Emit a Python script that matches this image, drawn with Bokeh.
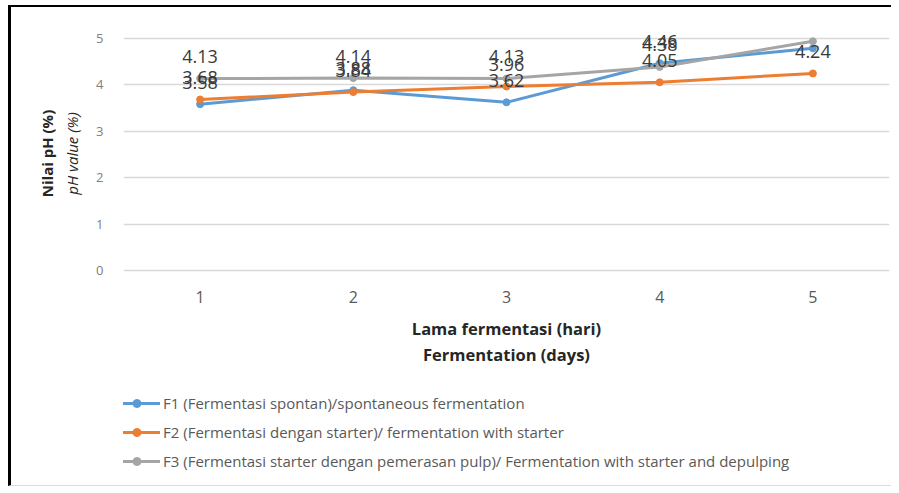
from bokeh.plotting import figure
from bokeh.layouts import column
from bokeh.models import Range1d, LinearAxis, FixedTicker, Legend, LegendItem, ColumnDataSource
from bokeh.core.properties import value
from bokeh.embed import file_html
from bokeh.resources import INLINE

# ---- data ----
days = [1, 2, 3, 4, 5]
day_labels = ["1", "2", "3", "4", "5"]
f1_values = [3.58, 3.88, 3.62, 4.46, 4.78]
f2_values = [3.68, 3.84, 3.96, 4.05, 4.24]
f3_values = [4.13, 4.14, 4.13, 4.38, 4.93]
y_ticks = [0, 1, 2, 3, 4, 5]
series_names = [
    "F1 (Fermentasi spontan)/spontaneous fermentation",
    "F2 (Fermentasi dengan starter)/ fermentation with starter",
    "F3 (Fermentasi starter dengan pemerasan pulp)/ Fermentation with starter and depulping",
]
colors = ["#5B9BD5", "#ED7D31", "#A5A5A5"]
x_title_1 = "Lama fermentasi (hari)"
x_title_2 = "Fermentation (days)"
y_title_1 = "Nilai pH (%)"
y_title_2 = "pH value (%)"

FONT = "Open Sans"


def plain_axis(ax):
    ax.axis_line_color = None
    ax.major_tick_line_color = None
    ax.minor_tick_line_color = None
    ax.major_tick_out = 0
    ax.major_tick_in = 0
    ax.minor_tick_out = 0
    ax.minor_tick_in = 0


# ---------------- chart ----------------
p = figure(width=880, height=364, output_backend="svg", toolbar_location=None,
           x_range=Range1d(0.5, 5.5), y_range=Range1d(-0.054, 5.097),
           min_border_left=112, min_border_right=2, min_border_top=26,
           min_border_bottom=98, x_axis_location=None, y_axis_location=None)
p.outline_line_color = None
p.background_fill_color = "white"
p.border_fill_color = "white"

yax = LinearAxis(ticker=FixedTicker(ticks=y_ticks), axis_label=y_title_2)
plain_axis(yax)
yax.major_label_standoff = 20
yax.major_label_text_font = FONT
yax.major_label_text_font_size = "13px"
yax.major_label_text_color = "#808080"
yax.axis_label_text_font = FONT
yax.axis_label_text_font_style = "italic"
yax.axis_label_text_font_size = "15px"
yax.axis_label_text_color = "#262626"
yax.axis_label_standoff = 11
p.add_layout(yax, "left")

yax2 = LinearAxis(ticker=FixedTicker(ticks=[]), axis_label=y_title_1)
plain_axis(yax2)
yax2.major_label_standoff = 0
yax2.axis_label_text_font = FONT
yax2.axis_label_text_font_style = "bold"
yax2.axis_label_text_font_size = "15px"
yax2.axis_label_text_color = "#262626"
yax2.axis_label_standoff = 3
p.add_layout(yax2, "left")

xax = LinearAxis(ticker=FixedTicker(ticks=days), axis_label=x_title_1)
plain_axis(xax)
xax.major_label_overrides = {d: s for d, s in zip(days, day_labels)}
xax.major_label_standoff = 17
xax.major_label_text_font = FONT
xax.major_label_text_font_size = "16px"
xax.major_label_text_color = "#595959"
xax.axis_label_text_font = FONT
xax.axis_label_text_font_style = "bold"
xax.axis_label_text_font_size = "16.5px"
xax.axis_label_text_color = "#262626"
xax.axis_label_standoff = 11
p.add_layout(xax, "below")

xax2 = LinearAxis(ticker=FixedTicker(ticks=[]), axis_label=x_title_2)
plain_axis(xax2)
xax2.major_label_standoff = 0
xax2.axis_label_text_font = FONT
xax2.axis_label_text_font_style = "bold"
xax2.axis_label_text_font_size = "16.5px"
xax2.axis_label_text_color = "#262626"
xax2.axis_label_standoff = 0
p.add_layout(xax2, "below")

p.xgrid.visible = False
p.ygrid.ticker = FixedTicker(ticks=y_ticks)
p.ygrid.grid_line_color = "#d9d9d9"
p.ygrid.grid_line_width = 1.5

all_vals = [f1_values, f2_values, f3_values]
srcs = []
for vals, col in zip(all_vals, colors):
    src = ColumnDataSource(dict(x=days, y=vals, lab=[f"{v:.2f}" for v in vals]))
    srcs.append(src)
    p.line("x", "y", source=src, line_color=col, line_width=3)
    p.scatter("x", "y", source=src, marker="circle", size=7, fill_color=col, line_color=col)

for src in srcs:
    p.text("x", "y", text="lab", source=src, text_font=value(FONT), text_font_size="18px",
           text_color="#3a3a3a", text_align="center", text_baseline="middle", y_offset=-22)

# ---------------- legend strip ----------------
q = figure(width=880, height=114, output_backend="svg", toolbar_location=None,
           x_range=Range1d(0.5, 5.5), y_range=Range1d(100, 101),
           min_border_left=0, min_border_right=0, min_border_top=0, min_border_bottom=0,
           x_axis_location=None, y_axis_location=None)
q.outline_line_color = None
q.grid.visible = False
q.background_fill_color = "white"
q.border_fill_color = "white"

items = []
for name, src, col in zip(series_names, srcs, colors):
    ln = q.line("x", "y", source=src, line_color=col, line_width=3)
    mk = q.scatter("x", "y", source=src, marker="circle", size=7, fill_color=col, line_color=col)
    items.append(LegendItem(label=name, renderers=[ln, mk]))

legend = Legend(items=items, location=(-10, 14), orientation="vertical")
legend.label_text_font = FONT
legend.label_text_font_size = "15px"
legend.label_text_color = "#595959"
legend.glyph_width = 47
legend.glyph_height = 20
legend.label_height = 20
legend.spacing = 9
legend.padding = 0
legend.margin = 0
legend.label_standoff = 3
legend.border_line_color = None
legend.background_fill_alpha = 0
q.add_layout(legend, "center")

layout = column(p, q, spacing=0)
layout.styles = {"margin-left": "8px", "margin-top": "5px",
                 "border-left": "3px solid black", "border-top": "2px solid black",
                 "border-bottom": "1px solid #dcdcdc"}

open("out.html", "w").write(file_html(layout, INLINE))
